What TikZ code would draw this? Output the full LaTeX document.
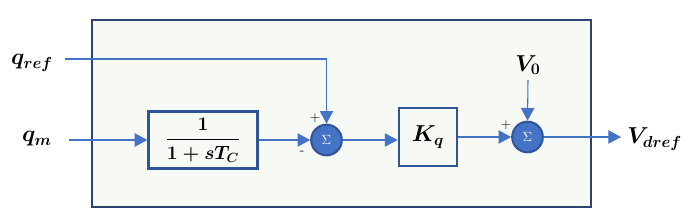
\documentclass[tikz,border=0pt]{standalone}
\usepackage{amsmath,bm}
\usetikzlibrary{arrows.meta,positioning}
\definecolor{bdline}{HTML}{4472C4}
\definecolor{bddark}{HTML}{2F5597}
\definecolor{bdframe}{HTML}{2E4470}
\definecolor{bdfill}{HTML}{F7F9F5}
\tikzset{
  bdframebox/.style={draw=bdframe, fill=bdfill, line width=1.6pt},
  bdblock/.style={
    rectangle, draw=bddark, fill=bdfill, line width=1.7pt,
    inner sep=0pt, font=\Large
  },
  bdsum/.style={
    circle, draw=bddark, fill=bdline, line width=1.5pt,
    minimum size=23pt, inner sep=0pt, text=white, font=\normalsize
  },
  bdsig/.style={-{Triangle[length=9.5pt,width=10pt]}, draw=bdline, line width=0.8pt},
  bdlabel/.style={font=\LARGE, inner sep=0pt},
  bdsign/.style={font=\normalsize, inner sep=0pt}
}

\begin{document}
\begin{tikzpicture}[x=0.75pt,y=-0.75pt]
  \useasboundingbox (0,0) rectangle (689,212);
  % frame of the controller
  \draw[bdframebox] (92,20) rectangle (591,207);

  % blocks and summing points
  \node[bdblock, minimum width=81.75pt, minimum height=42.75pt] (lag) at (203,140)
    {$\boldsymbol{\dfrac{1}{1+sT_C}}$};
  \node[bdsum] (sum1) at (326.5,140) {$\Sigma$};
  \node[bdblock, minimum width=44pt, minimum height=43.5pt, font=\LARGE] (gain) at (428,137)
    {$\boldsymbol{K_q}$};
  \node[bdsum] (sum2) at (527.5,137) {$\Sigma$};

  % signal names
  \node[bdlabel] (qref) at (32,63) {$\boldsymbol{q_{ref}}$};
  \node[bdlabel] (qm) at (37,139) {$\boldsymbol{q_m}$};
  \node[bdlabel] (v0) at (528,65) {$\boldsymbol{V_0}$};
  \node[bdlabel, anchor=west] (vdref) at (627,139) {$\boldsymbol{V_{dref}}$};

  % signs
  \node[bdsign] at (315,118) {+};
  \node[bdsign] at (302,153) {-};
  \node[bdsign] at (506,125) {+};

  % connectors
  \draw[bdsig] ([xshift=9pt]qref.east |- 0,59) -| (sum1.north);
  \draw[bdsig] ([xshift=13pt]qm.east |- lag.west) -- (lag.west);
  \draw[bdsig] (lag.east) -- (sum1.west);
  \draw[bdsig] (sum1.east) -- (sum1.east -| gain.west);
  \draw[bdsig] (gain.east |- sum2.west) -- (sum2.west);
  \draw[bdsig] ([yshift=-4pt]v0.south) -- (sum2.north);
  \draw[bdsig] (sum2.east) -- ([xshift=-4.5pt]sum2.east -| vdref.west);
\end{tikzpicture}
\end{document}
